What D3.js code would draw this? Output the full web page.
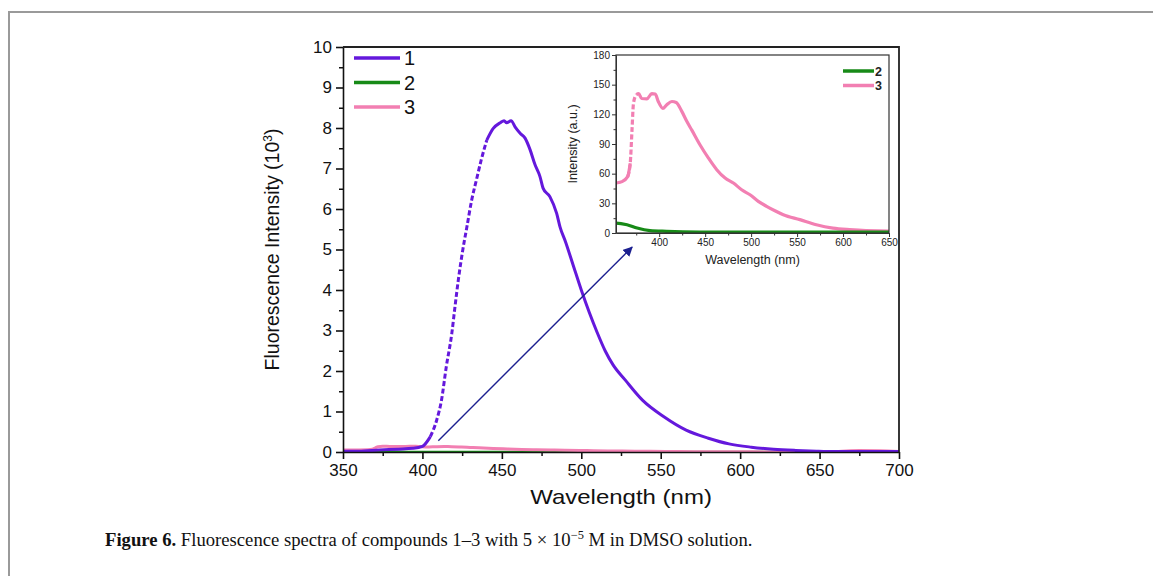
<!DOCTYPE html>
<html>
<head>
<meta charset="utf-8">
<script src="https://cdn.jsdelivr.net/npm/d3@7"></script>
<style>
  body { margin: 0; background: #fff; }
  svg { display: block; }
  .tick text { font-family: Arial, "Liberation Sans", sans-serif; }
</style>
</head>
<body>
<svg id="chart" width="1153" height="576"></svg>
<script>
// compound 1 (main plot, units of 10^3)
const wl1 = [350, 360, 373, 385, 394, 400, 405, 409, 412, 415, 418.5, 420.5, 422.6, 425.4, 428, 431, 434, 437, 440.5, 444.6, 449, 451.4, 453, 455.8, 458.3, 461.5, 464.6, 467.8, 470.9, 474, 476, 480.3, 484.5, 486.6, 490, 495, 500, 505, 510, 515, 520, 527.6, 538.5, 552, 566, 580, 593, 607, 621, 635, 648, 660, 680, 700];
const val1 = [0.02, 0.02, 0.05, 0.07, 0.09, 0.14, 0.38, 0.79, 1.28, 2.1, 2.93, 3.59, 4.25, 4.99, 5.56, 6.22, 6.72, 7.21, 7.7, 7.99, 8.13, 8.18, 8.13, 8.18, 8.03, 7.87, 7.75, 7.46, 7.09, 6.8, 6.51, 6.3, 5.89, 5.56, 5.2, 4.6, 4.0, 3.45, 2.95, 2.5, 2.15, 1.78, 1.28, 0.87, 0.54, 0.34, 0.2, 0.12, 0.07, 0.04, 0.02, 0.01, 0.01, 0.01];
// the steep rise was sampled sparsely, it shows as a dashed stretch
const sparse1 = [404, 442];

// compounds 2 and 3 (a.u., inset); main plot shows them / 1000
const wl2 = [350, 353, 365, 376, 390, 408, 444, 500, 600, 700];
const val2 = [10, 10, 8.4, 5, 2.4, 1.7, 1, 0.8, 0.8, 0.8];
const wl3 = [350, 353, 359.5, 365.7, 368.5, 370.4, 372, 375, 377.6, 381, 386.6, 392, 395.7, 399, 404, 408, 413.8, 418.5, 424.6, 430, 435.5, 444.5, 453.6, 462.6, 471.7, 480.7, 489.7, 498.8, 507.8, 516.8, 525.9, 535, 553, 571, 589, 607, 625, 650, 662, 675, 688, 700];
const val3 = [50, 50.5, 52, 57, 70.6, 104, 131, 140, 141, 136, 135.6, 141, 140.6, 133, 126, 129.5, 133, 132, 123, 113, 104, 89, 75.7, 64, 55.5, 50.5, 43.7, 38.7, 32, 27, 22.5, 18.5, 13.5, 8.4, 5, 3.4, 2.4, 2, 15, 35, 30, 15];
const sparse3 = [367, 376];

const mainXTicks = [350, 400, 450, 500, 550, 600, 650, 700];
const mainYTicks = [0, 1, 2, 3, 4, 5, 6, 7, 8, 9, 10];
const insetXTicks = [400, 450, 500, 550, 600, 650];
const insetYTicks = [0, 30, 60, 90, 120, 150, 180];
const legendMain = ["1", "2", "3"];
const legendInset = ["2", "3"];
const arrowFrom = [410, 0.28];
const arrowTo = [532, 5.06];

const colors = { "1": "#6418dc", "2": "#178a17", "3": "#f27fb2" };
const font = 'Arial, "Liberation Sans", sans-serif';

const svg = d3.select("#chart");

// page frame
svg.append("path")
    .attr("d", "M9,576 V12 H1153")
    .attr("fill", "none")
    .attr("stroke", "#9a9a9a")
    .attr("stroke-width", 2);

const zip = (a, b) => a.map((d, i) => [d, b[i]]);

// draw a series, dashed between lo and hi (shared end points keep it joined)
function drawSeries(g, pts, line, color, width, range) {
    const parts = [
        { d: pts.filter(p => p[0] <= range[0] + 1.5), dash: null },
        { d: pts.filter(p => p[0] >= range[0] - 1.5 && p[0] <= range[1] + 1.5), dash: "5,2.5" },
        { d: pts.filter(p => p[0] >= range[1] - 1.5), dash: null }
    ];
    parts.forEach(pt => {
        g.append("path").datum(pt.d)
            .attr("d", line).attr("fill", "none")
            .attr("stroke", color).attr("stroke-width", width)
            .attr("stroke-dasharray", pt.dash);
    });
}

// ---------- main plot ----------
const M = { left: 343, right: 899, top: 47, bottom: 452 };
const x = d3.scaleLinear().domain([350, 700]).range([M.left, M.right]);
const y = d3.scaleLinear().domain([0, 10]).range([M.bottom, M.top]);

svg.append("clipPath").attr("id", "clip-main")
    .append("rect").attr("x", M.left).attr("y", M.top)
    .attr("width", M.right - M.left).attr("height", M.bottom - M.top);

const line = d3.line().x(d => x(d[0])).y(d => y(d[1])).curve(d3.curveMonotoneX);

const gMain = svg.append("g").attr("clip-path", "url(#clip-main)");
gMain.append("path").datum(zip(wl2, val2.map(v => v / 1000)))
    .attr("d", line).attr("fill", "none").attr("stroke", colors["2"]).attr("stroke-width", 2.5);
gMain.append("path").datum(zip(wl3, val3.map(v => v / 1000)))
    .attr("d", line).attr("fill", "none").attr("stroke", colors["3"]).attr("stroke-width", 3);
drawSeries(gMain, zip(wl1, val1), line, colors["1"], 3, sparse1);

// axes
const xMinor = d3.range(375, 700, 50);
const yMinor = d3.range(0.5, 10, 1);

svg.append("g").attr("transform", `translate(0,${M.bottom})`)
    .call(d3.axisBottom(x).tickValues(xMinor).tickSize(4).tickFormat(""))
    .call(g => g.select(".domain").remove())
    .selectAll("line").attr("stroke", "#111").attr("stroke-width", 1.5);
svg.append("g").attr("transform", `translate(${M.left},0)`)
    .call(d3.axisLeft(y).tickValues(yMinor).tickSize(4).tickFormat(""))
    .call(g => g.select(".domain").remove())
    .selectAll("line").attr("stroke", "#111").attr("stroke-width", 1.5);

const xAxis = svg.append("g").attr("transform", `translate(0,${M.bottom})`)
    .call(d3.axisBottom(x).tickValues(mainXTicks).tickSize(7).tickSizeOuter(0).tickPadding(5));
xAxis.selectAll("text").attr("font-size", 17).attr("fill", "#111");
const yAxis = svg.append("g").attr("transform", `translate(${M.left},0)`)
    .call(d3.axisLeft(y).tickValues(mainYTicks).tickSize(7).tickSizeOuter(0).tickPadding(4));
yAxis.selectAll("text").attr("font-size", 17).attr("fill", "#111");
xAxis.selectAll(".domain, .tick line").attr("stroke", "#111").attr("stroke-width", 1.6);
yAxis.selectAll(".domain, .tick line").attr("stroke", "#111").attr("stroke-width", 1.6);

// top / right frame
svg.append("path")
    .attr("d", `M${M.left},${M.top} H${M.right} V${M.bottom}`)
    .attr("fill", "none").attr("stroke", "#222").attr("stroke-width", 1.8);

svg.append("text")
    .attr("transform", `translate(${(M.left + M.right) / 2},504) scale(1.2,1)`)
    .attr("text-anchor", "middle").attr("font-family", font).attr("font-size", 20).attr("fill", "#111")
    .text("Wavelength (nm)");

const yt = svg.append("text")
    .attr("transform", `translate(279,${(M.top + M.bottom) / 2}) rotate(-90)`)
    .attr("text-anchor", "middle").attr("font-family", font).attr("font-size", 19.5).attr("fill", "#111");
yt.append("tspan").text("Fluorescence Intensity (10");
yt.append("tspan").attr("baseline-shift", "super").attr("font-size", 12).text("3");
yt.append("tspan").text(")");

// main legend
const lg = svg.append("g").selectAll("g").data(legendMain).join("g")
    .attr("transform", (d, i) => `translate(354,${58 + i * 24.5})`);
lg.append("line").attr("x1", 0).attr("x2", 46)
    .attr("stroke", d => colors[d]).attr("stroke-width", 3.5);
lg.append("text").attr("x", 50).attr("dy", "0.36em")
    .attr("font-family", font).attr("font-size", 20).attr("fill", "#111").text(d => d);

// arrow
svg.append("defs").append("marker")
    .attr("id", "arrowhead").attr("viewBox", "0 0 10 10")
    .attr("refX", 9).attr("refY", 5).attr("markerWidth", 7).attr("markerHeight", 7)
    .attr("orient", "auto")
    .append("path").attr("d", "M0,0 L10,5 L0,10 z").attr("fill", "#1c2090");
svg.append("line")
    .attr("x1", x(arrowFrom[0])).attr("y1", y(arrowFrom[1]))
    .attr("x2", x(arrowTo[0])).attr("y2", y(arrowTo[1]))
    .attr("stroke", "#1c2090").attr("stroke-width", 1.4)
    .attr("marker-end", "url(#arrowhead)");

// ---------- inset ----------
const I = { left: 616, right: 889, top: 55, bottom: 233 };
const xi = d3.scaleLinear().domain([353, 650]).range([I.left, I.right]);
const yi = d3.scaleLinear().domain([0, 180]).range([I.bottom, I.top]);

svg.append("rect").attr("x", I.left).attr("y", I.top)
    .attr("width", I.right - I.left).attr("height", I.bottom - I.top)
    .attr("fill", "#fff");

svg.append("clipPath").attr("id", "clip-inset")
    .append("rect").attr("x", I.left).attr("y", I.top - 2)
    .attr("width", I.right - I.left).attr("height", I.bottom - I.top + 2);

const lineI = d3.line().x(d => xi(d[0])).y(d => yi(d[1])).curve(d3.curveMonotoneX);
const gIn = svg.append("g").attr("clip-path", "url(#clip-inset)");
drawSeries(gIn, zip(wl3, val3), lineI, colors["3"], 3.2, sparse3);
gIn.append("path").datum(zip(wl2, val2))
    .attr("d", lineI).attr("fill", "none").attr("stroke", colors["2"]).attr("stroke-width", 3.2);

svg.append("g").attr("transform", `translate(0,${I.bottom})`)
    .call(d3.axisBottom(xi).tickValues(d3.range(375, 650, 50)).tickSize(2.5).tickFormat(""))
    .call(g => g.select(".domain").remove())
    .selectAll("line").attr("stroke", "#333");
svg.append("g").attr("transform", `translate(${I.left},0)`)
    .call(d3.axisLeft(yi).tickValues(d3.range(15, 180, 30)).tickSize(2.5).tickFormat(""))
    .call(g => g.select(".domain").remove())
    .selectAll("line").attr("stroke", "#333");

const xiAxis = svg.append("g").attr("transform", `translate(0,${I.bottom})`)
    .call(d3.axisBottom(xi).tickValues(insetXTicks).tickSize(4).tickSizeOuter(0).tickPadding(2));
xiAxis.selectAll("text").attr("font-size", 10).attr("fill", "#222");
const yiAxis = svg.append("g").attr("transform", `translate(${I.left},0)`)
    .call(d3.axisLeft(yi).tickValues(insetYTicks).tickSize(4).tickSizeOuter(0).tickPadding(2));
yiAxis.selectAll("text").attr("font-size", 10).attr("fill", "#222");
xiAxis.selectAll(".domain, .tick line").attr("stroke", "#333");
yiAxis.selectAll(".domain, .tick line").attr("stroke", "#333");

svg.append("rect").attr("x", I.left).attr("y", I.top)
    .attr("width", I.right - I.left).attr("height", I.bottom - I.top)
    .attr("fill", "none").attr("stroke", "#333").attr("stroke-width", 1.2);

svg.append("text")
    .attr("x", (I.left + I.right) / 2).attr("y", 264)
    .attr("text-anchor", "middle").attr("font-family", font).attr("font-size", 12.5).attr("fill", "#222")
    .text("Wavelength (nm)");
svg.append("text")
    .attr("transform", `translate(577,${(I.top + I.bottom) / 2}) rotate(-90)`)
    .attr("text-anchor", "middle").attr("font-family", font).attr("font-size", 12.5).attr("fill", "#222")
    .text("Intensity (a.u.)");

const li = svg.append("g").selectAll("g").data(legendInset).join("g")
    .attr("transform", (d, i) => `translate(843,${71 + i * 14.5})`);
li.append("line").attr("x1", 0).attr("x2", 31)
    .attr("stroke", d => colors[d]).attr("stroke-width", 3.5);
li.append("text").attr("x", 32).attr("dy", "0.36em")
    .attr("font-family", font).attr("font-size", 12.5).attr("font-weight", "bold").attr("fill", "#222").text(d => d);

// ---------- caption ----------
const cap = svg.append("text")
    .attr("transform", "translate(105,546) scale(1.037,1)")
    .attr("font-family", '"Liberation Serif", "DejaVu Serif", serif').attr("font-size", 18).attr("fill", "#111");
cap.append("tspan").attr("font-weight", "bold").text("Figure 6.");
cap.append("tspan").text(" Fluorescence spectra of compounds 1–3 with 5 × 10");
cap.append("tspan").attr("baseline-shift", "super").attr("font-size", 12).text("−5");
cap.append("tspan").text(" M in DMSO solution.");
</script>
</body>
</html>
